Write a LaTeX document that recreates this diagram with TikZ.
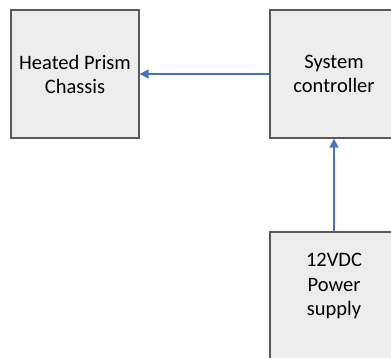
\documentclass[tikz,border=0pt]{standalone}
\usepackage{fontspec}
\setmainfont{Carlito}
\usetikzlibrary{arrows.meta}
\definecolor{boxfill}{HTML}{EDEDED}
\definecolor{boxline}{HTML}{595959}
\definecolor{arrowblue}{HTML}{4472C4}
\tikzset{
  blk/.style={draw=boxline, fill=boxfill, line width=1.3pt, minimum width=128pt, minimum height=128pt, inner sep=0pt, align=center, font=\fontsize{20.5}{24}\selectfont},
  conn/.style={draw=arrowblue, line width=1.3pt, -{Triangle[length=9pt,width=9pt]}}
}
\begin{document}
\begin{tikzpicture}[x=1pt,y=-1pt]
\useasboundingbox (0,0) rectangle (391,358);
\begin{scope}
\clip (0,0) rectangle (391,358);
\node[blk] (hp) at (75,74) {Heated Prism\\Chassis};
\node[blk] (sc) at (334,74) {System\\controller};
\node[blk] (ps) at (334,296) {};
\node[align=center, font=\fontsize{20.5}{24}\selectfont, inner sep=0pt] (pst) at (334,286) {12VDC\\Power\\supply};
\draw[conn] (sc.west) -- (hp.east);
\draw[conn] (ps.north) -- (sc.south);
\end{scope}
\end{tikzpicture}
\end{document}
